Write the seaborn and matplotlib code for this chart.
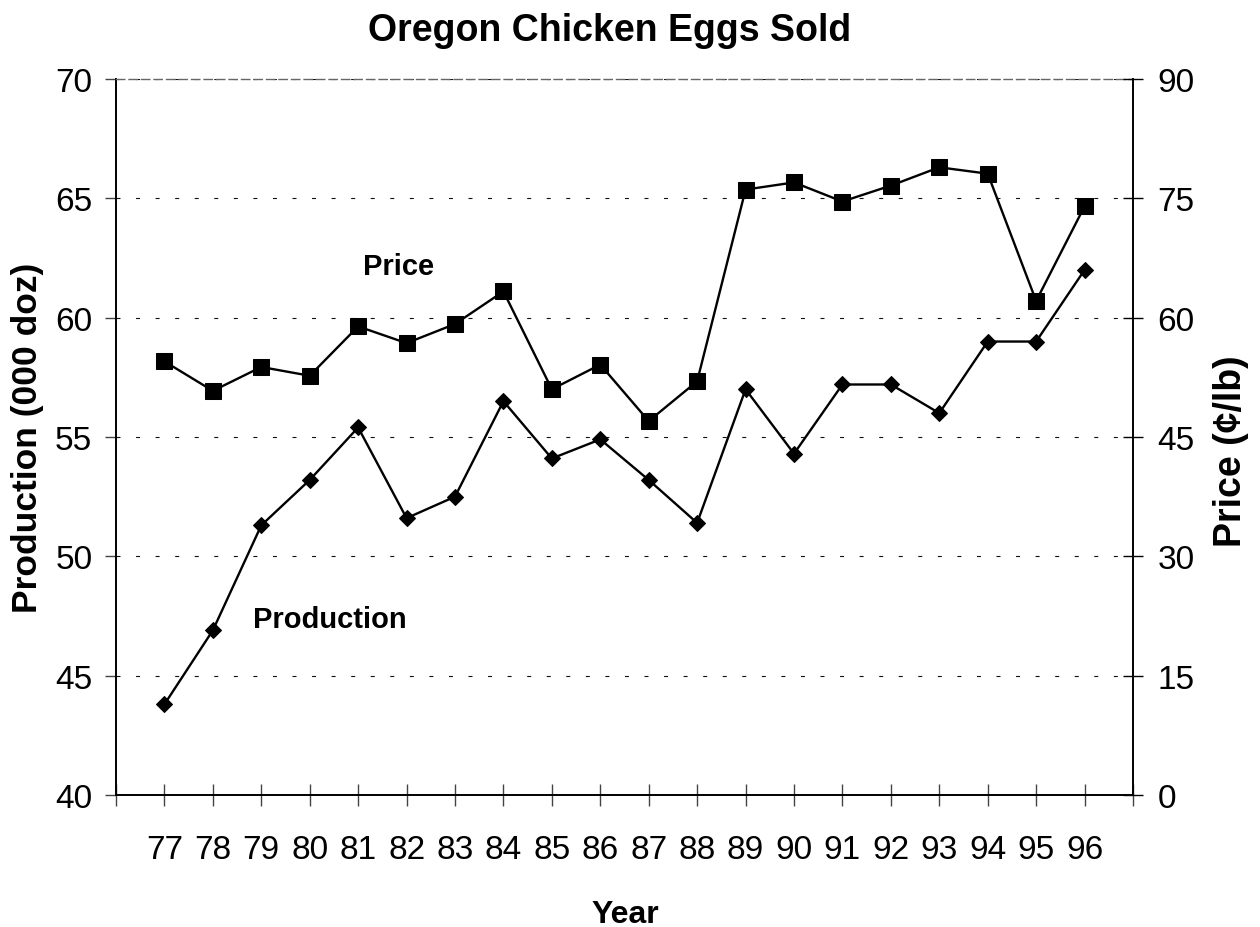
import matplotlib
matplotlib.use("Agg")
import matplotlib.pyplot as plt
import seaborn as sns

# values
years = list(range(77, 97))
year_labels = [str(y) for y in years]
production = [43.8, 46.9, 51.3, 53.2, 55.4, 51.6, 52.5, 56.5, 54.1, 54.9,
              53.2, 51.4, 57.0, 54.3, 57.2, 57.2, 56.0, 59.0, 59.0, 62.0]
price = [54.5, 50.8, 53.8, 52.7, 58.9, 56.8, 59.2, 63.3, 51.0, 54.1,
         47.0, 52.0, 76.1, 77.0, 74.6, 76.6, 78.9, 78.1, 62.1, 74.0]
prod_ticks = [40, 45, 50, 55, 60, 65, 70]
price_ticks = [0, 15, 30, 45, 60, 75, 90]

sns.set_theme(style="white")
plt.rcParams["font.family"] = ["Liberation Sans", "DejaVu Sans"]
plt.rcParams["text.color"] = "black"
plt.rcParams["axes.labelcolor"] = "black"
plt.rcParams["xtick.color"] = "black"
plt.rcParams["ytick.color"] = "black"

W, H = 1260, 928
fig = plt.figure(figsize=(W / 100, H / 100), dpi=100)
ax = fig.add_axes([116 / W, 1 - 796 / H, (1133 - 116) / W, (796 - 80) / H])
ax2 = ax.twinx()

sns.lineplot(x=years, y=production, ax=ax, color="black", linewidth=1.7,
             marker="D", markersize=8.6, markeredgecolor="black")
sns.lineplot(x=years, y=price, ax=ax2, color="black", linewidth=1.7,
             marker="s", markersize=11.8, markeredgecolor="black")

ax.set_xlim(76, 97)
ax.set_ylim(40, 70)
ax2.set_ylim(0, 90)

ax.set_xticks(range(76, 98))
ax.set_xticklabels([""] + year_labels + [""])
ax.set_yticks(prod_ticks)
ax2.set_yticks(price_ticks)

ax.tick_params(axis="x", direction="inout", length=16, width=1, color="#444444",
               labelcolor="black", pad=20, labelsize=24, bottom=True)
ax.tick_params(axis="y", direction="out", length=8, width=1, color="#444444",
               labelcolor="black", pad=9, labelsize=24, left=True)
ax2.tick_params(axis="y", direction="inout", length=14, width=1, color="black",
                labelcolor="black", pad=10.5, labelsize=24, right=True)

ax.yaxis.grid(True, color="#111111", linewidth=0.8, linestyle=(0, (3.6, 14)))
ax.xaxis.grid(False)
ax2.grid(False)

for a in (ax, ax2):
    for side in ("left", "bottom", "right"):
        a.spines[side].set_color("black")
        a.spines[side].set_linewidth(1.4)
    a.spines["top"].set_color("#666666")
    a.spines["top"].set_linewidth(1.0)
    a.spines["top"].set_linestyle((0, (6, 3)))
ax.spines["right"].set_visible(False)
ax2.spines["left"].set_visible(False)
ax2.spines["bottom"].set_visible(False)
ax2.spines["top"].set_visible(False)

ax.set_xlabel("")
ax.set_ylabel("")
ax2.set_ylabel("")

# series labels inside the plot
ax.text(0.278, 0.7277, "Price", transform=ax.transAxes, ha="center",
        va="baseline", fontsize=21, fontweight="bold", color="black")
ax.text(0.2104, 0.2346, "Production", transform=ax.transAxes, ha="center",
        va="baseline", fontsize=21, fontweight="bold", color="black")

fig.text(610 / W, 1 - 41 / H, "Oregon Chicken Eggs Sold", ha="center",
         va="baseline", fontsize=27, fontweight="bold", color="black")
fig.text(625 / W, 1 - 923 / H, "Year", ha="center", va="baseline",
         fontsize=23, fontweight="bold", color="black")
fig.text(28 / W, 1 - 438 / H, "Production (000 doz)", rotation=90,
         ha="center", va="center", fontsize=25.5, fontweight="bold",
         color="black")
fig.text(1231 / W, 1 - 451 / H, "Price (¢/lb)", rotation=90,
         ha="center", va="center", fontsize=27, fontweight="bold",
         color="black")

fig.savefig("out.png", dpi=100)
